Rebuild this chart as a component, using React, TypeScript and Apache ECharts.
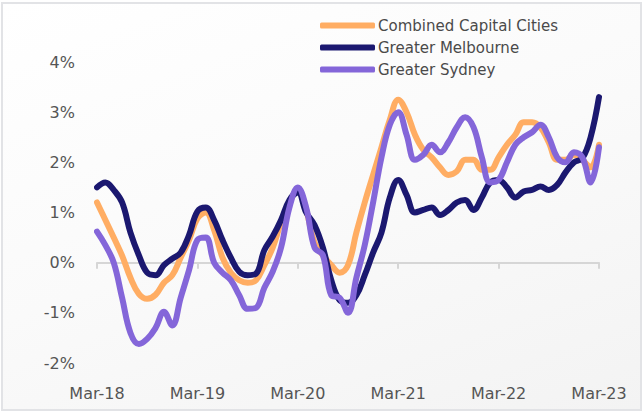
import React, { useEffect, useRef } from "react";
import * as echarts from "echarts";

const months: string[] = [
  "Mar-18","Apr-18","May-18","Jun-18","Jul-18","Aug-18","Sep-18","Oct-18","Nov-18","Dec-18","Jan-19","Feb-19",
  "Mar-19","Apr-19","May-19","Jun-19","Jul-19","Aug-19","Sep-19","Oct-19","Nov-19","Dec-19","Jan-20","Feb-20",
  "Mar-20","Apr-20","May-20","Jun-20","Jul-20","Aug-20","Sep-20","Oct-20","Nov-20","Dec-20","Jan-21","Feb-21",
  "Mar-21","Apr-21","May-21","Jun-21","Jul-21","Aug-21","Sep-21","Oct-21","Nov-21","Dec-21","Jan-22","Feb-22",
  "Mar-22","Apr-22","May-22","Jun-22","Jul-22","Aug-22","Sep-22","Oct-22","Nov-22","Dec-22","Jan-23","Feb-23",
  "Mar-23",
];

const yTicks: number[] = [-2, -1, 0, 1, 2, 3, 4];

const combinedCapitals: number[] = [
  1.2, 0.85, 0.5, 0.14, -0.3, -0.62, -0.72, -0.64, -0.4, -0.25, 0.1, 0.45,
  0.88, 1.0, 0.65, 0.1, -0.2, -0.35, -0.4, -0.35, -0.05, 0.3, 0.8, 1.2,
  1.45, 1.05, 0.4, 0.15, -0.05, -0.2, -0.05, 0.6, 1.2, 1.75, 2.3, 2.85,
  3.25, 3.0, 2.55, 2.25, 2.1, 1.9, 1.75, 1.82, 2.05, 2.05, 1.85, 1.85,
  2.1, 2.35, 2.55, 2.8, 2.8, 2.7, 2.4, 2.05, 2.05, 2.15, 2.05, 1.9,
  2.35,
];

const greaterMelbourne: number[] = [
  1.5, 1.6, 1.45, 1.2, 0.6, 0.15, -0.2, -0.25, -0.05, 0.08, 0.2, 0.55,
  1.02, 1.1, 0.85, 0.45, 0.1, -0.18, -0.25, -0.22, 0.25, 0.52, 0.85, 1.25,
  1.4, 1.0, 0.75, 0.3, -0.35, -0.75, -0.8, -0.65, -0.25, 0.2, 0.6, 1.3,
  1.65, 1.35, 1.0, 1.05, 1.1, 0.95, 1.05, 1.2, 1.25, 1.05, 1.3, 1.6,
  1.65, 1.5, 1.3, 1.42, 1.45, 1.52, 1.45, 1.55, 1.8, 2.0, 2.08, 2.5,
  3.3,
];

const greaterSydney: number[] = [
  0.62, 0.35, 0.0, -0.7, -1.4, -1.62, -1.52, -1.3, -0.98, -1.25, -0.7, -0.15,
  0.45, 0.5, 0.0, -0.2, -0.35, -0.65, -0.92, -0.9, -0.5, -0.18, 0.3, 1.1,
  1.5, 1.1, 0.3, 0.15, -0.65, -0.7, -1.0, -0.3, 0.35, 1.2, 2.1, 2.75,
  3.0, 2.55, 2.05, 2.15, 2.35, 2.2, 2.4, 2.7, 2.9, 2.7, 2.1, 1.6,
  1.65, 2.0, 2.35, 2.5, 2.6, 2.75, 2.5, 2.1, 2.0, 2.2, 2.1, 1.6,
  2.3,
];

const seriesNames: string[] = ["Combined Capital Cities", "Greater Melbourne", "Greater Sydney"];
const seriesColors: string[] = ["#FFAD63", "#1B1870", "#8466D9"];

const FONT = "'DejaVu Sans', sans-serif";

export default function App() {
  const ref = useRef<HTMLDivElement>(null);

  useEffect(() => {
    if (!ref.current) return;
    const chart = echarts.init(ref.current, undefined, { renderer: "svg" });
    const dataSets = [combinedCapitals, greaterMelbourne, greaterSydney];
    chart.setOption({
      animation: false,
      backgroundColor: "transparent",
      legend: {
        orient: "vertical",
        left: 320,
        top: 17,
        padding: 0,
        itemWidth: 55,
        itemHeight: 6,
        itemGap: 5,
        icon: "roundRect",
        data: seriesNames,
        textStyle: { fontFamily: FONT, fontSize: 15, color: "#4a4a4a", lineHeight: 17, padding: [0, 0, 0, -2] },
      },
      grid: { left: 97, right: 44, top: 62, bottom: 49, containLabel: false },
      xAxis: [
        {
          type: "category",
          data: months,
          boundaryGap: false,
          position: "bottom",
          axisLine: { show: false },
          axisTick: { show: false },
          axisLabel: {
            interval: 11,
            margin: 22,
            fontFamily: FONT,
            fontSize: 16,
            color: "#555",
          },
        },
        {
          type: "category",
          data: months,
          boundaryGap: false,
          position: "bottom",
          axisLine: { show: true, onZero: true, onZeroAxisIndex: 0, lineStyle: { color: "#d6d6d6", width: 2 } },
          axisTick: { show: true, interval: 11, length: 6, inside: false, lineStyle: { color: "#d6d6d6", width: 2 } },
          axisLabel: { show: false },
        },
      ],
      yAxis: {
        type: "value",
        min: yTicks[0],
        max: yTicks[yTicks.length - 1],
        interval: 1,
        axisLine: { show: false },
        axisTick: { show: false },
        splitLine: { show: false },
        axisLabel: {
          margin: 22,
          fontFamily: FONT,
          fontSize: 16,
          color: "#555",
          formatter: (v: number) => `${v}%`,
        },
      },
      series: seriesNames.map((name, i) => ({
        name,
        type: "line",
        xAxisIndex: 0,
        data: dataSets[i],
        smooth: 0.4,
        showSymbol: false,
        symbol: "none",
        color: seriesColors[i],
        lineStyle: { width: 6, color: seriesColors[i], cap: "round", join: "round" },
        z: 2 + i,
      })),
    });
    return () => chart.dispose();
  }, []);

  return (
    <div
      style={{
        position: "fixed",
        left: 0,
        top: 0,
        width: 643,
        height: 412,
        background: "#ffffff",
      }}
    >
      <div
        style={{
          position: "absolute",
          left: 1,
          top: 2,
          width: 637,
          height: 405,
          border: "2px solid #e2e3e6",
          background: "linear-gradient(160deg, #ffffff 0%, #fafafa 50%, #f3f3f3 100%)",
        }}
      />
      <div ref={ref} style={{ position: "absolute", left: 0, top: 0, width: 643, height: 412 }} />
    </div>
  );
}
